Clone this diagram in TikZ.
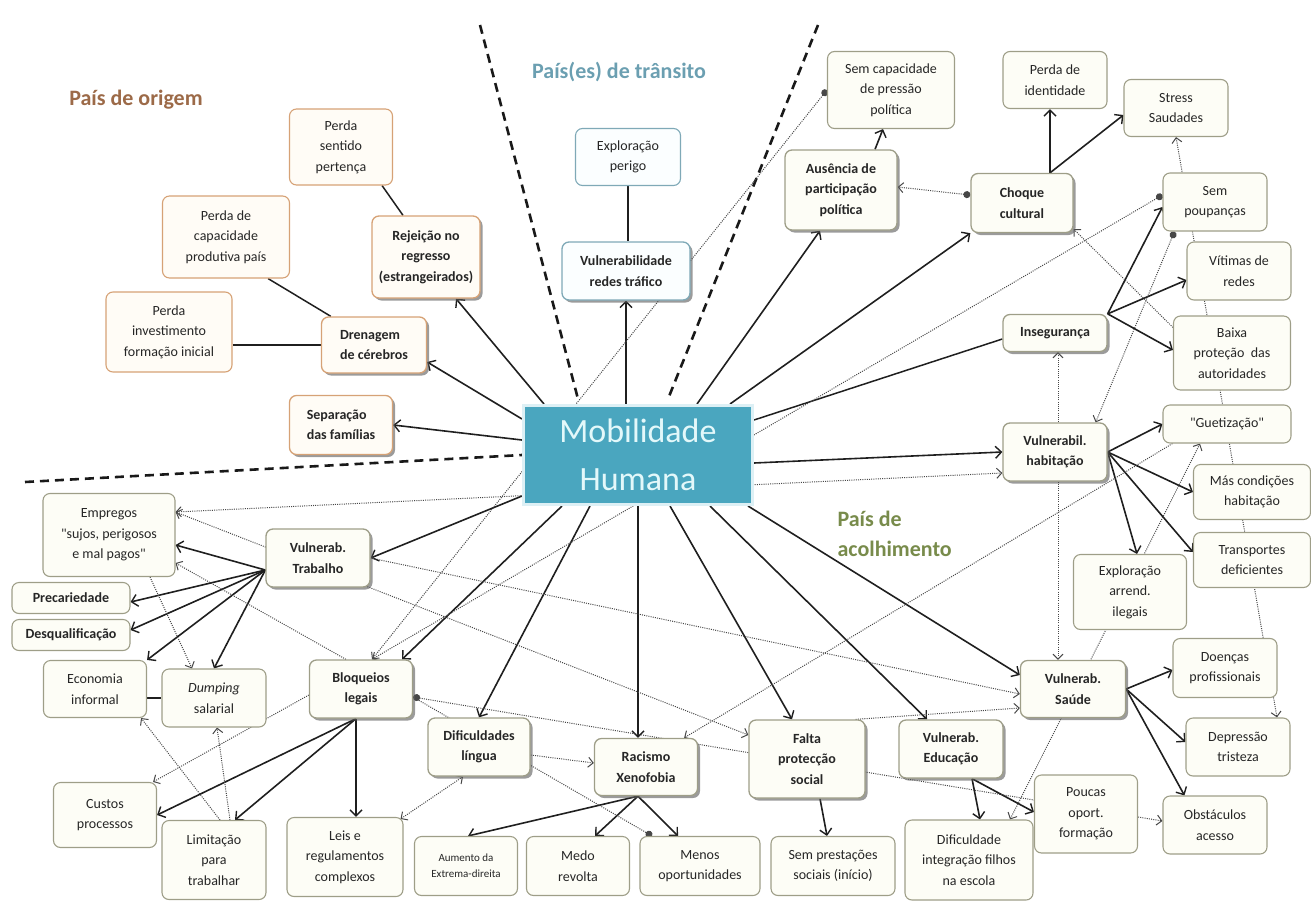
\documentclass[tikz,border=0pt]{standalone}
\usepackage{fontspec}
\setmainfont{Carlito}[Ligatures=TeXOff]
\usetikzlibrary{arrows.meta,shadows,calc,backgrounds}
\definecolor{orgb}{HTML}{D6A276}
\definecolor{orgf}{HTML}{FFFCF6}
\definecolor{trnb}{HTML}{7FA9B7}
\definecolor{trnf}{HTML}{FBFEFF}
\definecolor{dstb}{HTML}{9E9E88}
\definecolor{dstf}{HTML}{FDFDF6}
\definecolor{mobf}{HTML}{4AA6BF}
\definecolor{mobe}{HTML}{DDF0F5}
\definecolor{mobt}{HTML}{E3F8FA}
\definecolor{orgt}{HTML}{9C6A48}
\definecolor{trnt}{HTML}{6B9FB1}
\definecolor{dstt}{HTML}{788B4B}
\tikzset{
  nbox/.style={draw, rounded corners=7pt, align=center, inner sep=2pt, line width=1.1pt,
    text=black!85, font=\fontsize{14}{20.5}\selectfont},
  org/.style={nbox, draw=orgb, fill=orgf},
  trn/.style={nbox, draw=trnb, fill=trnf},
  dst/.style={nbox, draw=dstb, fill=dstf},
  mainbox/.style={font=\fontsize{14}{20.5}\selectfont\bfseries, line width=1.3pt,
    drop shadow={shadow xshift=2.5pt,shadow yshift=-2.5pt,fill=black!65,opacity=0.6}},
  wh/.style 2 args={minimum width=#1, minimum height=#2},
  title/.style={font=\fontsize{22}{30}\selectfont\bfseries},
  arr/.style={line width=1.6pt, draw=black!88, -{Straight Barb[length=6pt,width=12pt,line width=1.4pt]}},
  ln/.style={line width=1.5pt, draw=black!88},
  dotl/.style={line width=1pt, draw=black!72, dash pattern=on 1pt off 1.2pt},
  darr/.style={dotl, -{Straight Barb[length=5pt,width=10pt,line width=1pt]}},
  dboth/.style={dotl, {Straight Barb[length=5pt,width=10pt,line width=1pt]}-{Straight Barb[length=5pt,width=10pt,line width=1pt]}},
  dcirc/.style={dotl, {Circle[length=7pt]}-{Straight Barb[length=5pt,width=10pt,line width=1pt]}},
  divider/.style={line width=2.6pt, draw=black!90, dash pattern=on 9pt off 6pt},
}
\begin{document}
\begin{tikzpicture}[x=1pt,y=-1pt]
\useasboundingbox (0,0) rectangle (1311,902);
% titles
\node[title, text=orgt] (t1) at (136,100) {País de origem};
\node[title, text=trnt] (t2) at (619,72) {País(es) de trânsito};
\node[title, text=dstt, align=left, anchor=west] (t3) at (834,534) {País de\\acolhimento};
% origin
\node[org,wh={103pt}{76pt}] (pert) at (341,147) {Perda\\sentido\\pertença};
\node[org,wh={127pt}{82pt}] (capa) at (226,237) {Perda de\\capacidade\\produtiva país};
\node[org,mainbox,wh={108pt}{82pt}] (rej) at (426,257) {Rejeição no\\regresso\\(estrangeirados)};
\node[org,wh={126pt}{80pt}] (invest) at (169,332) {Perda\\investimento\\formação inicial};
\node[org,mainbox,wh={105pt}{56pt},align=left] (dren) at (374,345) {Drenagem\\de cérebros};
\node[org,mainbox,wh={103pt}{59pt},align=left] (sep) at (341,425) {Separação\\das famílias};
% transit
\node[trn,wh={105pt}{57pt}] (expl) at (628,157) {Exploração\\perigo};
\node[trn,mainbox,wh={128pt}{58pt}] (redes) at (626,271) {Vulnerabilidade\\redes tráfico};
% center
\node[fill=mobf, draw=mobe, line width=3pt, wh={229pt}{99pt}, text=mobt, align=center,
  font=\fontsize{34}{48}\selectfont] (mob) at (638,455) {Mobilidade\\Humana};
% destination
\node[dst,wh={127pt}{77pt}] (semcap) at (891,90) {Sem capacidade\\de pressão\\política};
\node[dst,mainbox,wh={112pt}{80pt}] (aus) at (841,190) {Ausência de\\participação\\política};
\node[dst,wh={104pt}{57pt}] (ident) at (1055,80) {Perda de\\identidade};
\node[dst,wh={104pt}{57pt}] (stress) at (1176,108) {Stress\\Saudades};
\node[dst,mainbox,wh={102pt}{59pt},align=left] (choque) at (1022,203) {Choque\\cultural};
\node[dst,wh={104pt}{58pt}] (poup) at (1215,202) {Sem\\poupanças};
\node[dst,wh={104pt}{58pt}] (vitimas) at (1239,271) {Vítimas de\\redes};
\node[dst,mainbox,wh={104pt}{37pt}] (inseg) at (1055,333) {Insegurança};
\node[dst,wh={117pt}{74pt}] (baixa) at (1232,353) {Baixa\\proteção\ \ das\\autoridades};
\node[dst,mainbox,wh={104pt}{58pt}] (hab) at (1055,452) {Vulnerabil.\\habitação};
\node[dst,wh={128pt}{38pt}] (guet) at (1227,424) {"Guetização"};
\node[dst,wh={117pt}{55pt}] (mas) at (1252,492) {Más condições\\habitação};
\node[dst,wh={117pt}{55pt}] (transp) at (1252,560) {Transportes\\deficientes};
\node[dst,wh={113pt}{75pt}] (arrend) at (1130,592) {Exploração\\arrend.\\ilegais};
\node[dst,mainbox,wh={105pt}{57pt}] (saude) at (1073,689) {Vulnerab.\\Saúde};
\node[dst,wh={104pt}{59pt}] (doencas) at (1225,668) {Doenças\\profissionais};
\node[dst,wh={104pt}{58pt}] (depr) at (1238,747) {Depressão\\tristeza};
\node[dst,wh={104pt}{58pt}] (obst) at (1215,825) {Obstáculos\\acesso};
\node[dst,mainbox,wh={104pt}{58pt}] (educ) at (951,749) {Vulnerab.\\Educação};
\node[dst,wh={103pt}{78pt}] (poucas) at (1086,814) {Poucas\\oport.\\formação};
\node[dst,wh={128pt}{80pt}] (difint) at (969,860) {Dificuldade\\integração filhos\\na escola};
\node[dst,mainbox,wh={116pt}{78pt}] (falta) at (807,759) {Falta\\protecção\\social};
\node[dst,wh={124pt}{59pt}] (semprest) at (833,866) {Sem prestações\\sociais (início)};
\node[dst,mainbox,wh={103pt}{57pt}] (racismo) at (646,767) {Racismo\\Xenofobia};
\node[dst,wh={120pt}{59pt}] (menos) at (700,866) {Menos\\oportunidades};
\node[dst,wh={103pt}{59pt}] (medo) at (578,866) {Medo\\revolta};
\node[dst,wh={103pt}{59pt},font=\fontsize{11}{16}\selectfont] (aumento) at (466,866) {Aumento da\\Extrema-direita};
\node[dst,mainbox,wh={102pt}{58pt}] (difling) at (479,747) {Dificuldades\\língua};
\node[dst,wh={116pt}{79pt}] (leis) at (345,857) {Leis e\\regulamentos\\complexos};
\node[dst,mainbox,wh={103pt}{58pt}] (bloq) at (361,689) {Bloqueios\\legais};
\node[dst,wh={104pt}{79pt}] (limit) at (214,860) {Limitação\\para\\trabalhar};
\node[dst,wh={103pt}{65pt}] (custos) at (105,815) {Custos\\processos};
\node[dst,wh={103pt}{57pt}] (econ) at (95,689) {Economia\\informal};
\node[dst,wh={104pt}{58pt}] (dump) at (214,698) {\textit{Dumping}\\salarial};
\node[dst,wh={118pt}{31pt},font=\fontsize{14}{20.5}\selectfont\bfseries] (desq) at (71,635) {Desqualificação};
\node[dst,wh={118pt}{31pt},font=\fontsize{14}{20.5}\selectfont\bfseries] (prec) at (71,598) {Precariedade};
\node[dst,wh={132pt}{83pt}] (emp) at (109,535) {Empregos\\"sujos, perigosos\\e mal pagos"};
\node[dst,mainbox,wh={104pt}{58pt}] (trab) at (318,558) {Vulnerab.\\Trabalho};

\begin{scope}[on background layer]
% dividers
\coordinate (v1a) at (480,25);
\coordinate (v2a) at (818,25);
\coordinate (ha) at (25,482);
\draw[divider] (v1a) -- ($(mob.north west)+(56,-5)$);
\draw[divider] (v2a) -- ($(mob.north west)+(146,-5)$);
\draw[divider] (ha) -- (mob.west);
% from centre
\draw[arr] ($(mob.north west)+(22,0)$) -- ($(rej.south)+(30,0)$);
\draw[arr] ($(mob.north west)+(0,15)$) -- ($(dren.east)+(0,17)$);
\draw[arr] ($(mob.west)+(0,-15)$) -- (sep.east);
\draw[arr] (mob.north -| redes.south) -- (redes.south);
\draw[arr] ($(mob.north)+(59,0)$) -- ($(aus.south)+(-21,0)$);
\draw[arr] ($(mob.north)+(92,0)$) -- (choque.south west);
\draw[ln] ($(mob.north east)+(0,16)$) -- ($(inseg.west)+(0,6)$);
\draw[arr] ($(mob.east)+(0,8)$) -- (hab.west);
\draw[arr] ($(mob.south east)+(-6,0)$) -- ($(saude.west)+(0,-14)$);
\draw[arr] ($(mob.south)+(72,0)$) -- ($(educ.north)+(-24,0)$);
\draw[arr] ($(mob.south)+(32,0)$) -- ($(falta.north)+(-15,0)$);
\draw[arr] (mob.south) -- (mob.south |- racismo.north);
\draw[arr] ($(mob.south)+(-48,0)$) -- (difling.north);
\draw[arr] ($(mob.south)+(-76,0)$) -- ($(bloq.north)+(41,0)$);
\draw[arr] ($(mob.south west)+(0,-10)$) -- (trab.east);
% origin links
\draw[ln] ($(pert.south east)+(-11,0)$) -- ($(rej.north)+(-23,0)$);
\draw[ln] ($(capa.south east)+(-22,0)$) -- ($(dren.north west)+(10,0)$);
\draw[ln] (invest.east |- dren.west) -- (dren.west);
\draw[ln] (expl.south) -- (expl.south |- redes.north);
% destination solid
\draw[arr] ($(aus.north)+(34,0)$) -- ($(semcap.south)+(-8,0)$);
\coordinate (cq) at ($(choque.north)+(28,0)$);
\draw[arr] (cq) -- (cq |- ident.south);
\draw[arr] (cq) -- ($(stress.west)+(0,7)$);
\draw[arr] (inseg.north east) -- ($(poup.west)+(0,5)$);
\draw[arr] (inseg.north east) -- ($(vitimas.west)+(0,9)$);
\draw[arr] (inseg.north east) -- ($(baixa.west)+(0,-3)$);
\draw[arr] (hab.east) -- (guet.west);
\draw[arr] (hab.east) -- (mas.west);
\draw[arr] (hab.east) -- ($(transp.west)+(0,-8)$);
\draw[arr] (hab.east) -- ($(arrend.north)+(7,0)$);
\draw[arr] (saude.east) -- ($(doencas.west)+(0,2)$);
\draw[arr] (saude.east) -- ($(depr.west)+(0,-5)$);
\draw[arr] (saude.east) -- ($(obst.north west)+(22,0)$);
\coordinate (ed) at ($(educ.south)+(21,0)$);
\draw[arr] (ed) -- ($(difint.north)+(11,0)$);
\draw[arr] (ed) -- ($(poucas.west)+(0,-2)$);
\draw[arr] ($(falta.south)+(13,0)$) -- ($(semprest.north)+(-6,0)$);
\coordinate (rx) at ($(racismo.south)+(-8,0)$);
\draw[arr] (rx) -- ($(aumento.north)+(2,0)$);
\draw[arr] (rx) -- ($(medo.north)+(17,0)$);
\draw[arr] (rx) -- ($(menos.north)+(-22,0)$);
\coordinate (bq) at ($(bloq.south)+(-5,0)$);
\draw[arr] (bq) -- (custos.east);
\draw[arr] (bq) -- ($(limit.north)+(21,0)$);
\draw[arr] (bq) -- (bq |- leis.north);
\coordinate (tw) at ($(trab.west)+(0,12)$);
\draw[arr] (tw) -- ($(emp.east)+(0,10)$);
\draw[arr] (tw) -- ($(prec.east)+(0,4)$);
\draw[arr] (tw) -- ($(desq.east)+(0,-5)$);
\draw[arr] (tw) -- (econ.north east);
\draw[arr] (tw) -- (dump.north);
\draw[ln] (econ.east |- dump.west) -- (dump.west);
% dotted
\draw[dboth] ($(emp.east)+(0,-23)$) -- ($(hab.west)+(0,21)$);
\draw[dcirc] (semcap.west) -- ($(bloq.north)+(11,0)$);
\draw[dcirc] ($(poup.west)+(0,-7)$) -- ($(bloq.north)+(11,0)$);
\draw[darr] ($(bloq.west)+(0,6)$) -- ($(custos.north east)+(-4,0)$);
\draw[darr] ($(guet.south west)+(10,0)$) -- ($(racismo.north east)+(-14,0)$);
\draw[dboth] ($(difint.north)+(41,0)$) -- ($(guet.south)+(-27,0)$);
\draw[darr] ($(hab.north)+(3,0)$) -- ($(inseg.south)+(3,0)$);
\draw[darr] ($(hab.south)+(3,0)$) -- ($(saude.north)+(-15,0)$);
\draw[dcirc] ($(poup.south west)+(12,0)$) -- ($(hab.north east)+(-12,0)$);
\draw[darr] ($(baixa.north west)+(0,12)$) -- ($(choque.south east)+(0,-4)$);
\draw[dboth] (stress.south) -- ($(depr.north)+(39,0)$);
\draw[darr] (trab.east) -- ($(saude.west)+(0,5)$);
\draw[darr] ($(falta.north east)+(-10,0)$) -- ($(saude.west)+(0,19)$);
\draw[dboth] ($(emp.east)+(0,-23)$) -- ($(falta.west)+(0,-24)$);
\draw[darr] ($(bloq.north west)+(37,0)$) -- ($(emp.east)+(0,28)$);
\draw[darr] ($(emp.south)+(41,0)$) -- ($(dump.north)+(-22,0)$);
\draw[darr] ($(limit.north)+(6,0)$) -- ($(econ.south east)+(-6,0)$);
\draw[darr] ($(limit.north)+(16,0)$) -- ($(dump.south)+(3,0)$);
\draw[dboth] ($(leis.north east)+(-3,2)$) -- ($(difling.south)+(-16,0)$);
\draw[darr] ($(difling.east)+(0,8)$) -- ($(racismo.west)+(0,-4)$);
\draw[dotl,{Circle[length=7pt]}-] ($(bloq.east)+(0,8)$) -- ($(poucas.west)+(0,-14)$);
\draw[dotl,-{Circle[length=7pt]}] ($(bloq.east)+(0,8)$) -- ($(menos.north)+(-48,0)$);
\draw[darr] ($(poucas.east)+(0,3)$) -- ($(obst.west)+(0,-4)$);
\draw[dcirc] ($(choque.west)+(0,-8)$) -- ($(aus.east)+(0,-3)$);
\end{scope}
\end{tikzpicture}
\end{document}
